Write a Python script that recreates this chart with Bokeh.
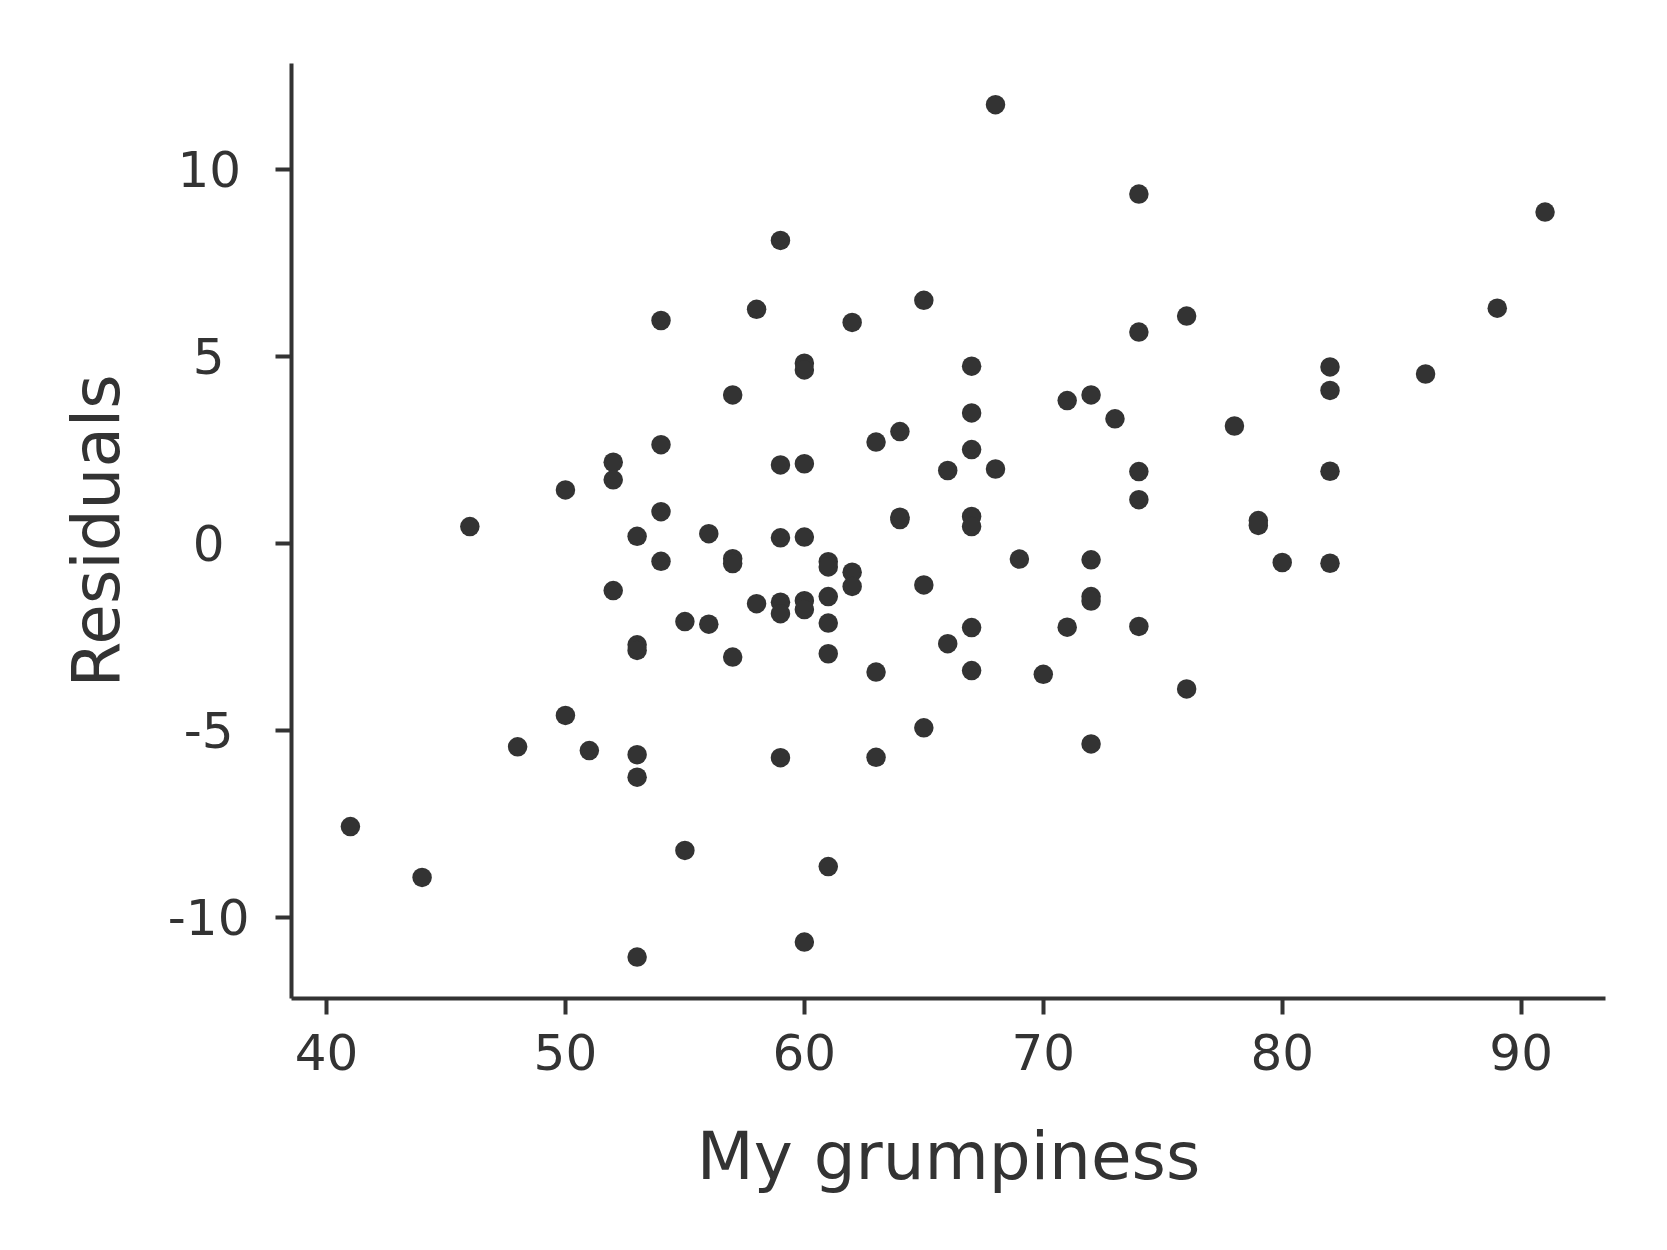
from bokeh.plotting import figure
from bokeh.models import ColumnDataSource, FixedTicker, Range1d
from bokeh.embed import file_html
from bokeh.resources import INLINE

# My grumpiness (x) and residuals (y)
grumpiness = [
    41, 44, 46, 48, 50, 50, 51, 52, 52, 52,
    53, 53, 53, 53, 53, 53, 54, 54, 54, 54,
    55, 55, 56, 56, 57, 57, 57, 57, 58, 58,
    59, 59, 59, 59, 59, 59, 60, 60, 60, 60,
    60, 60, 60, 61, 61, 61, 61, 61, 61, 62,
    62, 62, 63, 63, 63, 64, 64, 64, 65, 65,
    65, 66, 66, 67, 67, 67, 67, 67, 67, 67,
    68, 68, 69, 70, 71, 71, 72, 72, 72, 72,
    72, 73, 74, 74, 74, 74, 74, 76, 76, 78,
    79, 79, 80, 82, 82, 82, 82, 86, 89, 91,
]
residuals = [
    -7.56, -8.92, 0.46, -5.43, 1.44, -4.59, -5.53, 2.18, 1.71, -1.25,
    0.20, -2.70, -2.85, -5.64, -6.24, -11.05, 5.97, 2.65, 0.86, -0.47,
    -2.08, -8.20, 0.27, -2.15, 3.98, -0.40, -0.53, -3.03, 6.27, -1.60,
    8.11, 2.11, 0.16, -1.56, -1.87, -5.72, 4.83, 4.65, 2.14, 0.18,
    -1.52, -1.76, -10.65, -0.48, -0.62, -1.41, -2.12, -2.94, -8.63, 5.92,
    -0.76, -1.14, 2.72, -3.43, -5.71, 3.00, 0.71, 0.65, 6.51, -1.10,
    -4.92, 1.96, -2.67, 4.75, 3.50, 2.52, 0.73, 0.46, -2.24, -3.39,
    11.74, 2.00, -0.41, -3.49, 3.83, -2.23, 3.98, -0.43, -1.41, -1.53,
    -5.35, 3.34, 9.35, 5.66, 1.93, 1.18, -2.21, 6.09, -3.88, 3.15,
    0.62, 0.49, -0.50, 4.73, 4.10, 1.94, -0.52, 4.54, 6.30, 8.87,
]
x_ticks = [40, 50, 60, 70, 80, 90]
y_ticks = [-10, -5, 0, 5, 10]
y_tick_labels = ["-10", "-5", "0", "5", "10"]
x_title = "My grumpiness"
y_title = "Residuals"

INK = "#333333"
FONT = "DejaVu Sans"

# y tick labels are centred in the reference: pad on the right with
# fixed-width unicode spaces so right-aligned labels share one centre
PAD = {"-10": "", "10": "\u2006", "-5": "\u2008", "5": "\u2002", "0": "\u2002"}

src = ColumnDataSource(data=dict(x=grumpiness, y=residuals))

p = figure(
    width=1651, height=1234,
    frame_width=1314, frame_height=935,
    min_border_left=291, min_border_right=46,
    min_border_top=63, min_border_bottom=236,
    x_range=Range1d(38.535, 93.53), y_range=Range1d(-12.158, 12.842),
    output_backend="svg", toolbar_location=None,
)
p.outline_line_color = None
p.background_fill_color = "white"
p.border_fill_color = "white"
p.xgrid.visible = False
p.ygrid.visible = False

p.scatter("x", "y", source=src, size=19.5, fill_color=INK, line_color=None)

for ax, ticks, title in ((p.xaxis[0], x_ticks, x_title), (p.yaxis[0], y_ticks, y_title)):
    ax.ticker = FixedTicker(ticks=ticks, minor_ticks=[])
    ax.axis_label = title
    ax.axis_line_color = INK
    ax.axis_line_width = 4
    ax.major_tick_line_color = INK
    ax.major_tick_line_width = 4
    ax.major_tick_out = 16
    ax.major_tick_in = 0
    ax.minor_tick_line_color = None
    ax.major_label_text_font = FONT
    ax.major_label_text_font_size = "50px"
    ax.major_label_text_color = INK
    ax.axis_label_text_font = FONT
    ax.axis_label_text_font_size = "66px"
    ax.axis_label_text_font_style = "normal"
    ax.axis_label_text_color = INK

p.yaxis[0].major_label_overrides = {t: lab + PAD[lab] for t, lab in zip(y_ticks, y_tick_labels)}

p.xaxis[0].major_label_standoff = 19
p.xaxis[0].axis_label_standoff = 45
p.yaxis[0].major_label_standoff = 26
p.yaxis[0].axis_label_standoff = 30

open("out.html", "w").write(file_html(p, INLINE))
